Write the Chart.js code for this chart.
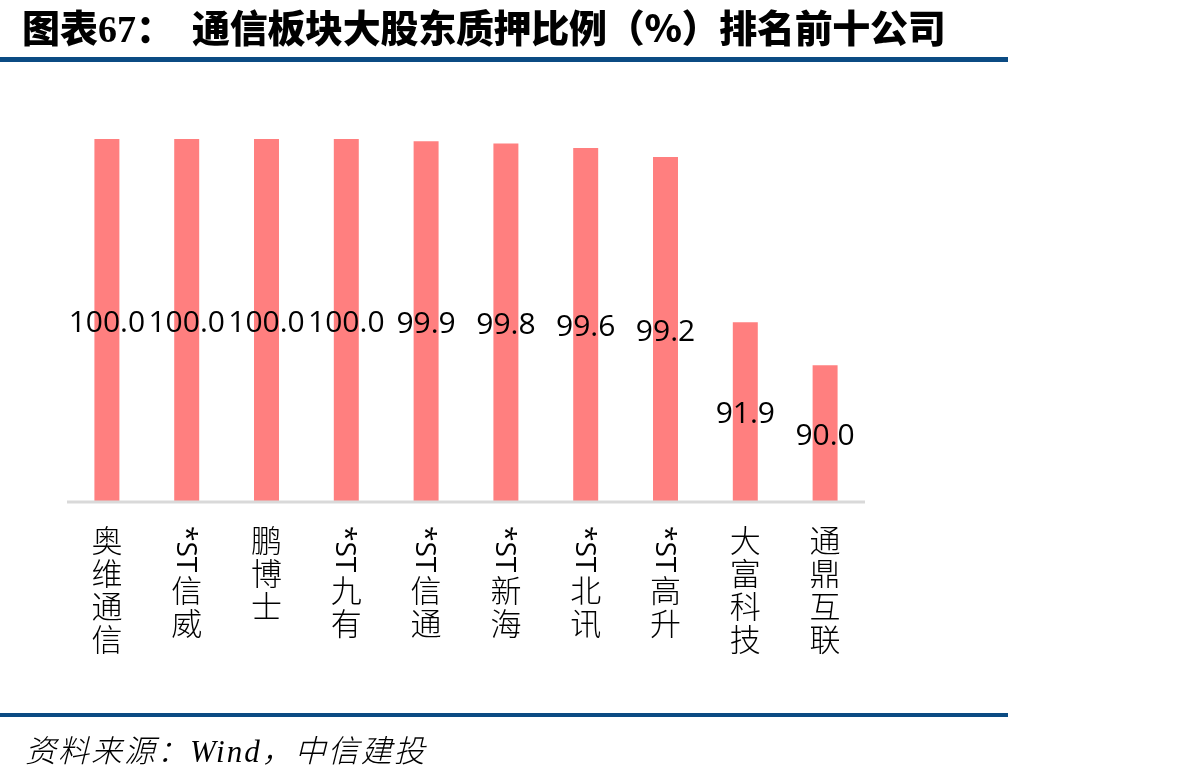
<!DOCTYPE html>
<html>
<head>
<meta charset="utf-8">
<script src="https://cdn.jsdelivr.net/npm/chart.js@4.4.0/dist/chart.umd.min.js"></script>
<style>
body{margin:0;background:#fff;width:1184px;height:782px;overflow:hidden;position:relative;font-family:"Noto Sans CJK SC";}
#wrap{position:absolute;left:0;top:0;width:1184px;height:782px;}
.title{position:absolute;top:7px;font-size:38px;line-height:38px;font-weight:900;color:#000;white-space:nowrap;}
.num{font-family:"Liberation Serif";font-weight:bold;}
.rule{position:absolute;left:0;width:1008px;background:#0b4b83;}
.source{position:absolute;left:25px;top:733px;font-size:31px;line-height:31px;font-style:italic;font-weight:300;color:#000;white-space:nowrap;letter-spacing:2px;}
.source .en{font-family:"Liberation Serif";}
</style>
</head>
<body>
<div id="wrap"><canvas id="myChart"></canvas></div>
<div class="title" style="left:22px">图表<span class="num">67</span>：</div>
<div class="title" style="left:192px;letter-spacing:-0.3px">通信板块大股东质押比例（%）排名前十公司</div>
<div class="rule" style="top:57px;height:5px"></div>
<div class="rule" style="top:713px;height:4px"></div>
<div class="source">资料来源：<span class="en">Wind</span>，中信建投</div>
<script>
/*DATA*/
const categories = ['奥维通信', '*ST信威', '鹏博士', '*ST九有', '*ST信通', '*ST新海', '*ST北讯', '*ST高升', '大富科技', '通鼎互联']
const pledgeRatio = [100.0, 100.0, 100.0, 100.0, 99.9, 99.8, 99.6, 99.2, 91.9, 90.0]
const yMin = 84
const yMax = 100

/*LABELS, BASE LINE*/
const barLabels = {
    id: 'barLabels',
    afterDatasetsDraw(chart){
        const {ctx, chartArea} = chart
        const meta = chart.getDatasetMeta(0)
        const yScale = chart.scales.y
        const basePx = yScale.getPixelForValue(yMin)
        ctx.save()

        // axis line
        ctx.strokeStyle = '#d9d9d9'
        ctx.lineWidth = 3
        ctx.beginPath()
        ctx.moveTo(chartArea.left, chartArea.bottom + 1)
        ctx.lineTo(chartArea.right, chartArea.bottom + 1)
        ctx.stroke()

        // value in the middle of each bar
        ctx.fillStyle = '#000'
        ctx.font = '30px "Open Sans"'
        ctx.textAlign = 'center'
        ctx.textBaseline = 'alphabetic'
        pledgeRatio.forEach((v, i) => {
            const x = meta.data[i].x
            const mid = (yScale.getPixelForValue(v) + basePx) / 2
            ctx.fillText(v.toFixed(1), x, mid + 11.5)
        })

        // vertical category names, "*ST" turned sideways
        meta.data.forEach((bar, i) => {
            let name = categories[i]
            let y = 540
            if(name.startsWith('*ST')){
                ctx.save()
                ctx.font = '28px "Open Sans"'
                ctx.textAlign = 'left'
                ctx.textBaseline = 'alphabetic'
                const w = ctx.measureText('*ST').width
                ctx.translate(bar.x, 526)
                ctx.rotate(Math.PI / 2)
                ctx.fillText('*ST', 0, 10)
                ctx.restore()
                y = 526 + w + 18
                name = name.slice(3)
            }
            ctx.fillStyle = '#000'
            ctx.font = '300 31px "Noto Sans CJK SC"'
            ctx.textAlign = 'center'
            ctx.textBaseline = 'middle'
            for(const ch of name){
                ctx.fillText(ch, bar.x, y)
                y += 33
            }
        })
        ctx.restore()
    }
}

/*CHART*/
var ctx = document.getElementById('myChart').getContext('2d');
var myChart = new Chart(ctx, {
    type: 'bar',
    data: {
        labels: categories,
        datasets: [{
            label: '质押比例',
            data: pledgeRatio,
            backgroundColor: '#ff7f7f',
            borderWidth: 0,
            barPercentage: 1,
            categoryPercentage: 0.313
        }]
    },
    options: {
        responsive: true,
        maintainAspectRatio: false,
        animation: false,
        layout: {
            padding: {left: 67, right: 319, top: 139, bottom: 281}
        },
        plugins: {
            legend: {display: false},
            tooltip: {enabled: false}
        },
        scales: {
            x: {display: false},
            y: {display: false, min: yMin, max: yMax}
        }
    },
    plugins: [barLabels]
});
</script>
</body>
</html>
